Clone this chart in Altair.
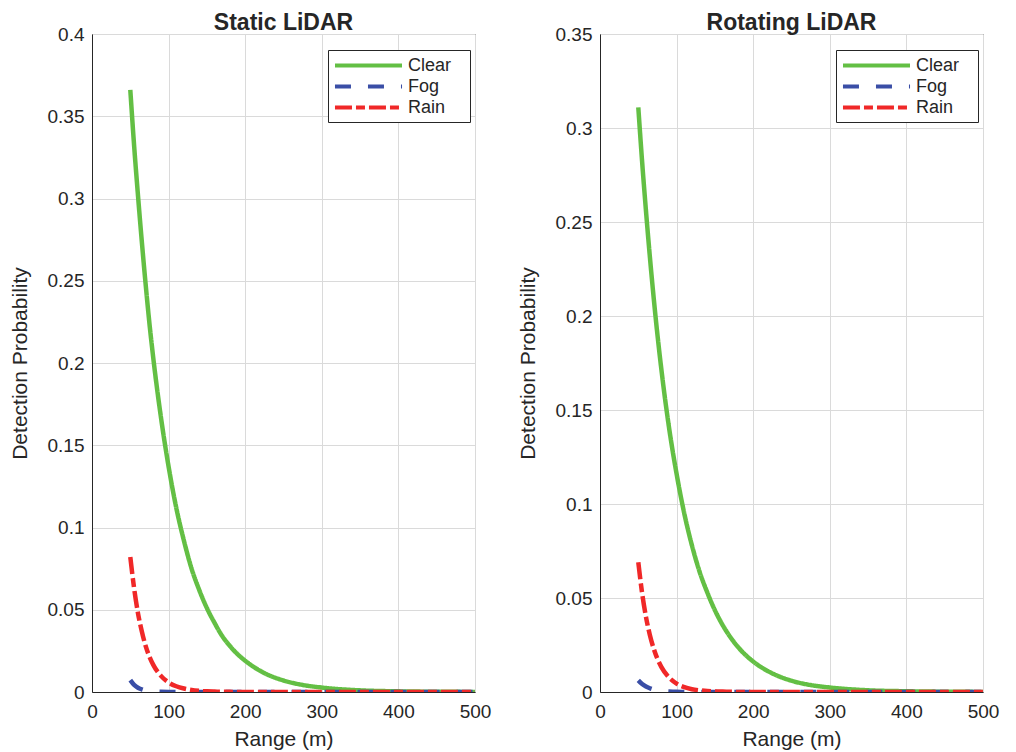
import altair as alt
import pandas as pd

# ---- data ----
range_m = [50, 55, 60, 65, 70, 75, 80, 90, 100, 110, 120, 130, 140, 150, 160,
           170, 180, 190, 200, 225, 250, 275, 300, 350, 400, 450, 500]

static_clear = [0.366, 0.332, 0.302, 0.274, 0.248, 0.224, 0.203, 0.167, 0.137, 0.112,
                0.092, 0.075, 0.062, 0.051, 0.042, 0.034, 0.028, 0.023, 0.019, 0.0115,
                0.007, 0.0043, 0.0027, 0.001, 0.0004, 0.00015, 0.00005]
static_fog = [0.0072, 0.0043, 0.0026, 0.0016, 0.0009, 0.0006, 0.0003, 0.0001, 0, 0,
              0, 0, 0, 0, 0, 0, 0, 0, 0, 0, 0, 0, 0, 0, 0, 0, 0]
static_rain = [0.082, 0.063, 0.048, 0.037, 0.028, 0.0215, 0.0165, 0.0098, 0.0058, 0.0035,
               0.0021, 0.0012, 0.0007, 0.0004, 0.00025, 0.00015, 0.0001, 0, 0, 0,
               0, 0, 0, 0, 0, 0, 0]

rot_clear = [0.311, 0.282, 0.256, 0.232, 0.210, 0.190, 0.172, 0.141, 0.116, 0.095,
             0.078, 0.064, 0.053, 0.0435, 0.0357, 0.0293, 0.024, 0.0197, 0.0162, 0.0099,
             0.006, 0.0037, 0.0024, 0.0009, 0.0004, 0.00015, 0.00005]
rot_fog = [0.0062, 0.0042, 0.0029, 0.002, 0.0013, 0.0009, 0.0006, 0.0003, 0.0001, 0,
           0, 0, 0, 0, 0, 0, 0, 0, 0, 0, 0, 0, 0, 0, 0, 0, 0]
rot_rain = [0.069, 0.0525, 0.040, 0.0305, 0.0232, 0.0176, 0.0134, 0.0078, 0.0045, 0.0026,
            0.0015, 0.0009, 0.0005, 0.0003, 0.0002, 0.0001, 0, 0, 0, 0,
            0, 0, 0, 0, 0, 0, 0]

series = ["Clear", "Fog", "Rain"]
colors = ["#63bf44", "#3a4ea6", "#f02828"]
dashes = [[1, 0], [16, 17], [17, 4, 9, 4]]

x_ticks = [0, 100, 200, 300, 400, 500]
y_ticks_static = [0, 0.05, 0.1, 0.15, 0.2, 0.25, 0.3, 0.35, 0.4]
y_ticks_rot = [0, 0.05, 0.1, 0.15, 0.2, 0.25, 0.3, 0.35]

FONT = "Liberation Sans"
TXT = "#262626"


def make_df(clear, fog, rain):
    rows = []
    for name, vals in zip(series, [clear, fog, rain]):
        for r, v in zip(range_m, vals):
            rows.append({"range": r, "p": v, "series": name})
    return pd.DataFrame(rows)


def panel(title, df, ymax, yticks):
    leg = alt.Legend(
        title=None, orient="none", legendX=236, legendY=16,
        symbolType="M-4,0H4", symbolSize=281, symbolStrokeWidth=4,
        symbolOffset=25, labelOffset=29,
        labelFontSize=18, labelFont=FONT, labelColor=TXT,
        labelExpr="datum.label + '\u2800'",
        strokeColor="#262626", fillColor="white", padding=5,
        rowPadding=1,
    )
    return alt.Chart(df, title=alt.TitleParams(
        title, fontSize=23, fontWeight="bold", font=FONT, color=TXT, offset=-10,
        anchor="middle")).mark_line(strokeWidth=4.5, interpolate="monotone", clip=True).encode(
        x=alt.X("range:Q", scale=alt.Scale(domain=[0, 500], nice=False),
                axis=alt.Axis(values=x_ticks, title="Range (m)", format="d", labelFlush=False)),
        y=alt.Y("p:Q", scale=alt.Scale(domain=[0, ymax], nice=False),
                axis=alt.Axis(values=yticks, title="Detection Probability", format="~g",
                              labelFlush=False)),
        color=alt.Color("series:N", scale=alt.Scale(domain=series, range=colors), legend=leg),
        strokeDash=alt.StrokeDash("series:N", scale=alt.Scale(domain=series, range=dashes), legend=leg),
    ).properties(width=383, height=658)


left = panel("Static LiDAR", make_df(static_clear, static_fog, static_rain), 0.4, y_ticks_static)
right = panel("Rotating LiDAR", make_df(rot_clear, rot_fog, rot_rain), 0.35, y_ticks_rot)

chart = alt.hconcat(left, right, spacing=24).resolve_scale(
    color="independent", strokeDash="independent", y="independent"
).resolve_legend(color="independent", strokeDash="independent").properties(
    padding={"left": 0, "top": 3, "right": 0, "bottom": 0}
).configure_view(stroke="#262626", strokeWidth=1).configure_axis(
    labelFont=FONT, labelFontSize=19, labelColor=TXT,
    titleFont=FONT, titleFontSize=21, titleColor=TXT, titleFontWeight="normal",
    gridColor="#dadada", gridWidth=1, domainColor="#262626",
    ticks=False,
).configure_axisY(titlePadding=17, labelPadding=8).configure_axisX(titlePadding=7, labelPadding=10)

chart.save("out.html", embed_options={"renderer": "svg", "actions": False})
